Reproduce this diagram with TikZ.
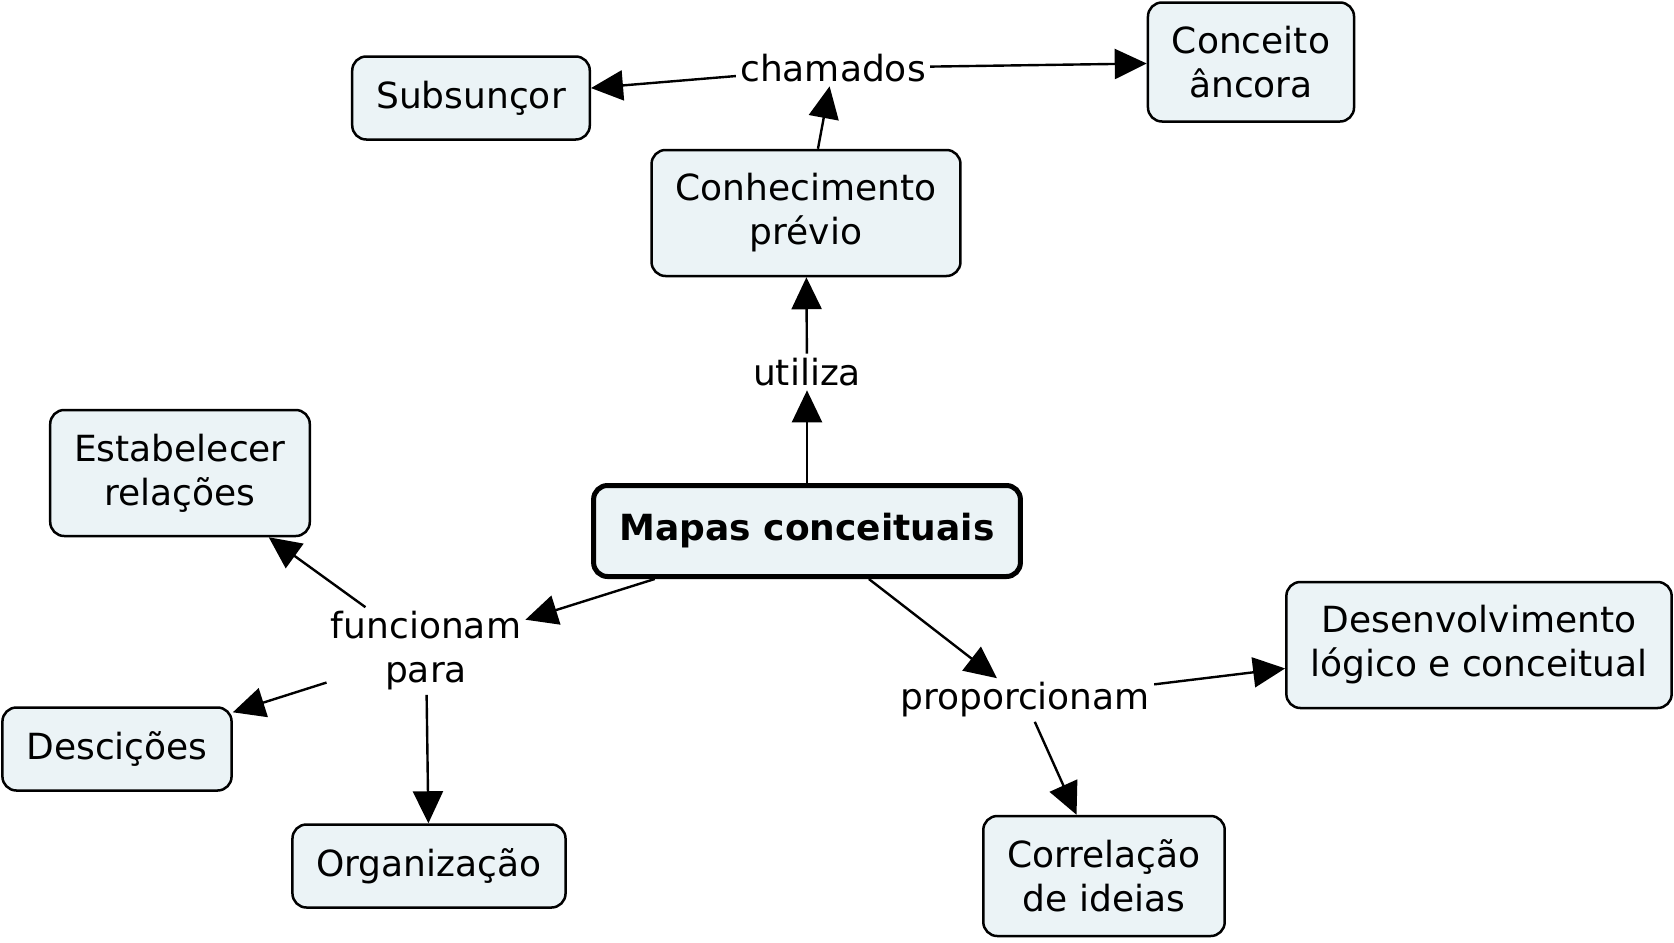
\documentclass[tikz,border=0pt]{standalone}
\usepackage{fontspec}
\setmainfont{DejaVu Sans}
\usetikzlibrary{arrows.meta}
\definecolor{cmapfill}{RGB}{235,243,246}

\begin{document}
\begin{tikzpicture}[x=0.5pt,y=-0.5pt,
    every node/.style={font=\fontsize{18}{22}\selectfont, align=center},
    concept/.style={draw, line width=1.25pt, rounded corners=7pt, fill=cmapfill,
        inner xsep=12pt, inner ysep=0pt, minimum height=41.5pt},
    tall/.style={minimum height=63pt},
    main/.style={concept, line width=2.5pt, inner xsep=13pt, minimum height=45.5pt,
        font=\fontsize{18}{22}\selectfont\bfseries},
    link/.style={inner sep=2pt},
    conn/.style={-{Triangle[length=16pt,width=15pt]}, line width=1.2pt}]
    \useasboundingbox (0,0) rectangle (1674,942);

    \node[main] (map) at (807,531) {Mapas conceituais};
    \node[concept, tall] (conh) at (806,213) {Conhecimento\\prévio};
    \node[concept] (sub) at (471,98) {Subsunçor};
    \node[concept, minimum height=59.5pt] (anc) at (1251,62) {Conceito\\âncora};
    \node[concept, tall] (est) at (180,473) {Estabelecer\\relações};
    \node[concept] (desc) at (117,749) {Descições};
    \node[concept] (org) at (429,866) {Organização};
    \node[concept, tall] (desv) at (1479,645) {Desenvolvimento\\lógico e conceitual};
    \node[concept, minimum height=60pt] (corr) at (1104,876) {Correlação\\de ideias};

    \node[link] (util) at (807,372) {utiliza};
    \node[link] (cham) at (833,68) {chamados};
    \node[link] (func) at (426,651) {funcionam\\para};
    \node[link] (prop) at (1025,700) {proporcionam};

    \path[conn] (map) edge (util)
                (util) edge (conh)
                (conh) edge (cham)
                (cham) edge (sub)
                (cham) edge (anc);
    \path[conn] (map) edge (func)
                (func) edge (est)
                (func) edge (desc)
                (func) edge (org);
    \path[conn] (map) edge (prop)
                (prop) edge (desv)
                (prop) edge (corr);
\end{tikzpicture}
\end{document}
